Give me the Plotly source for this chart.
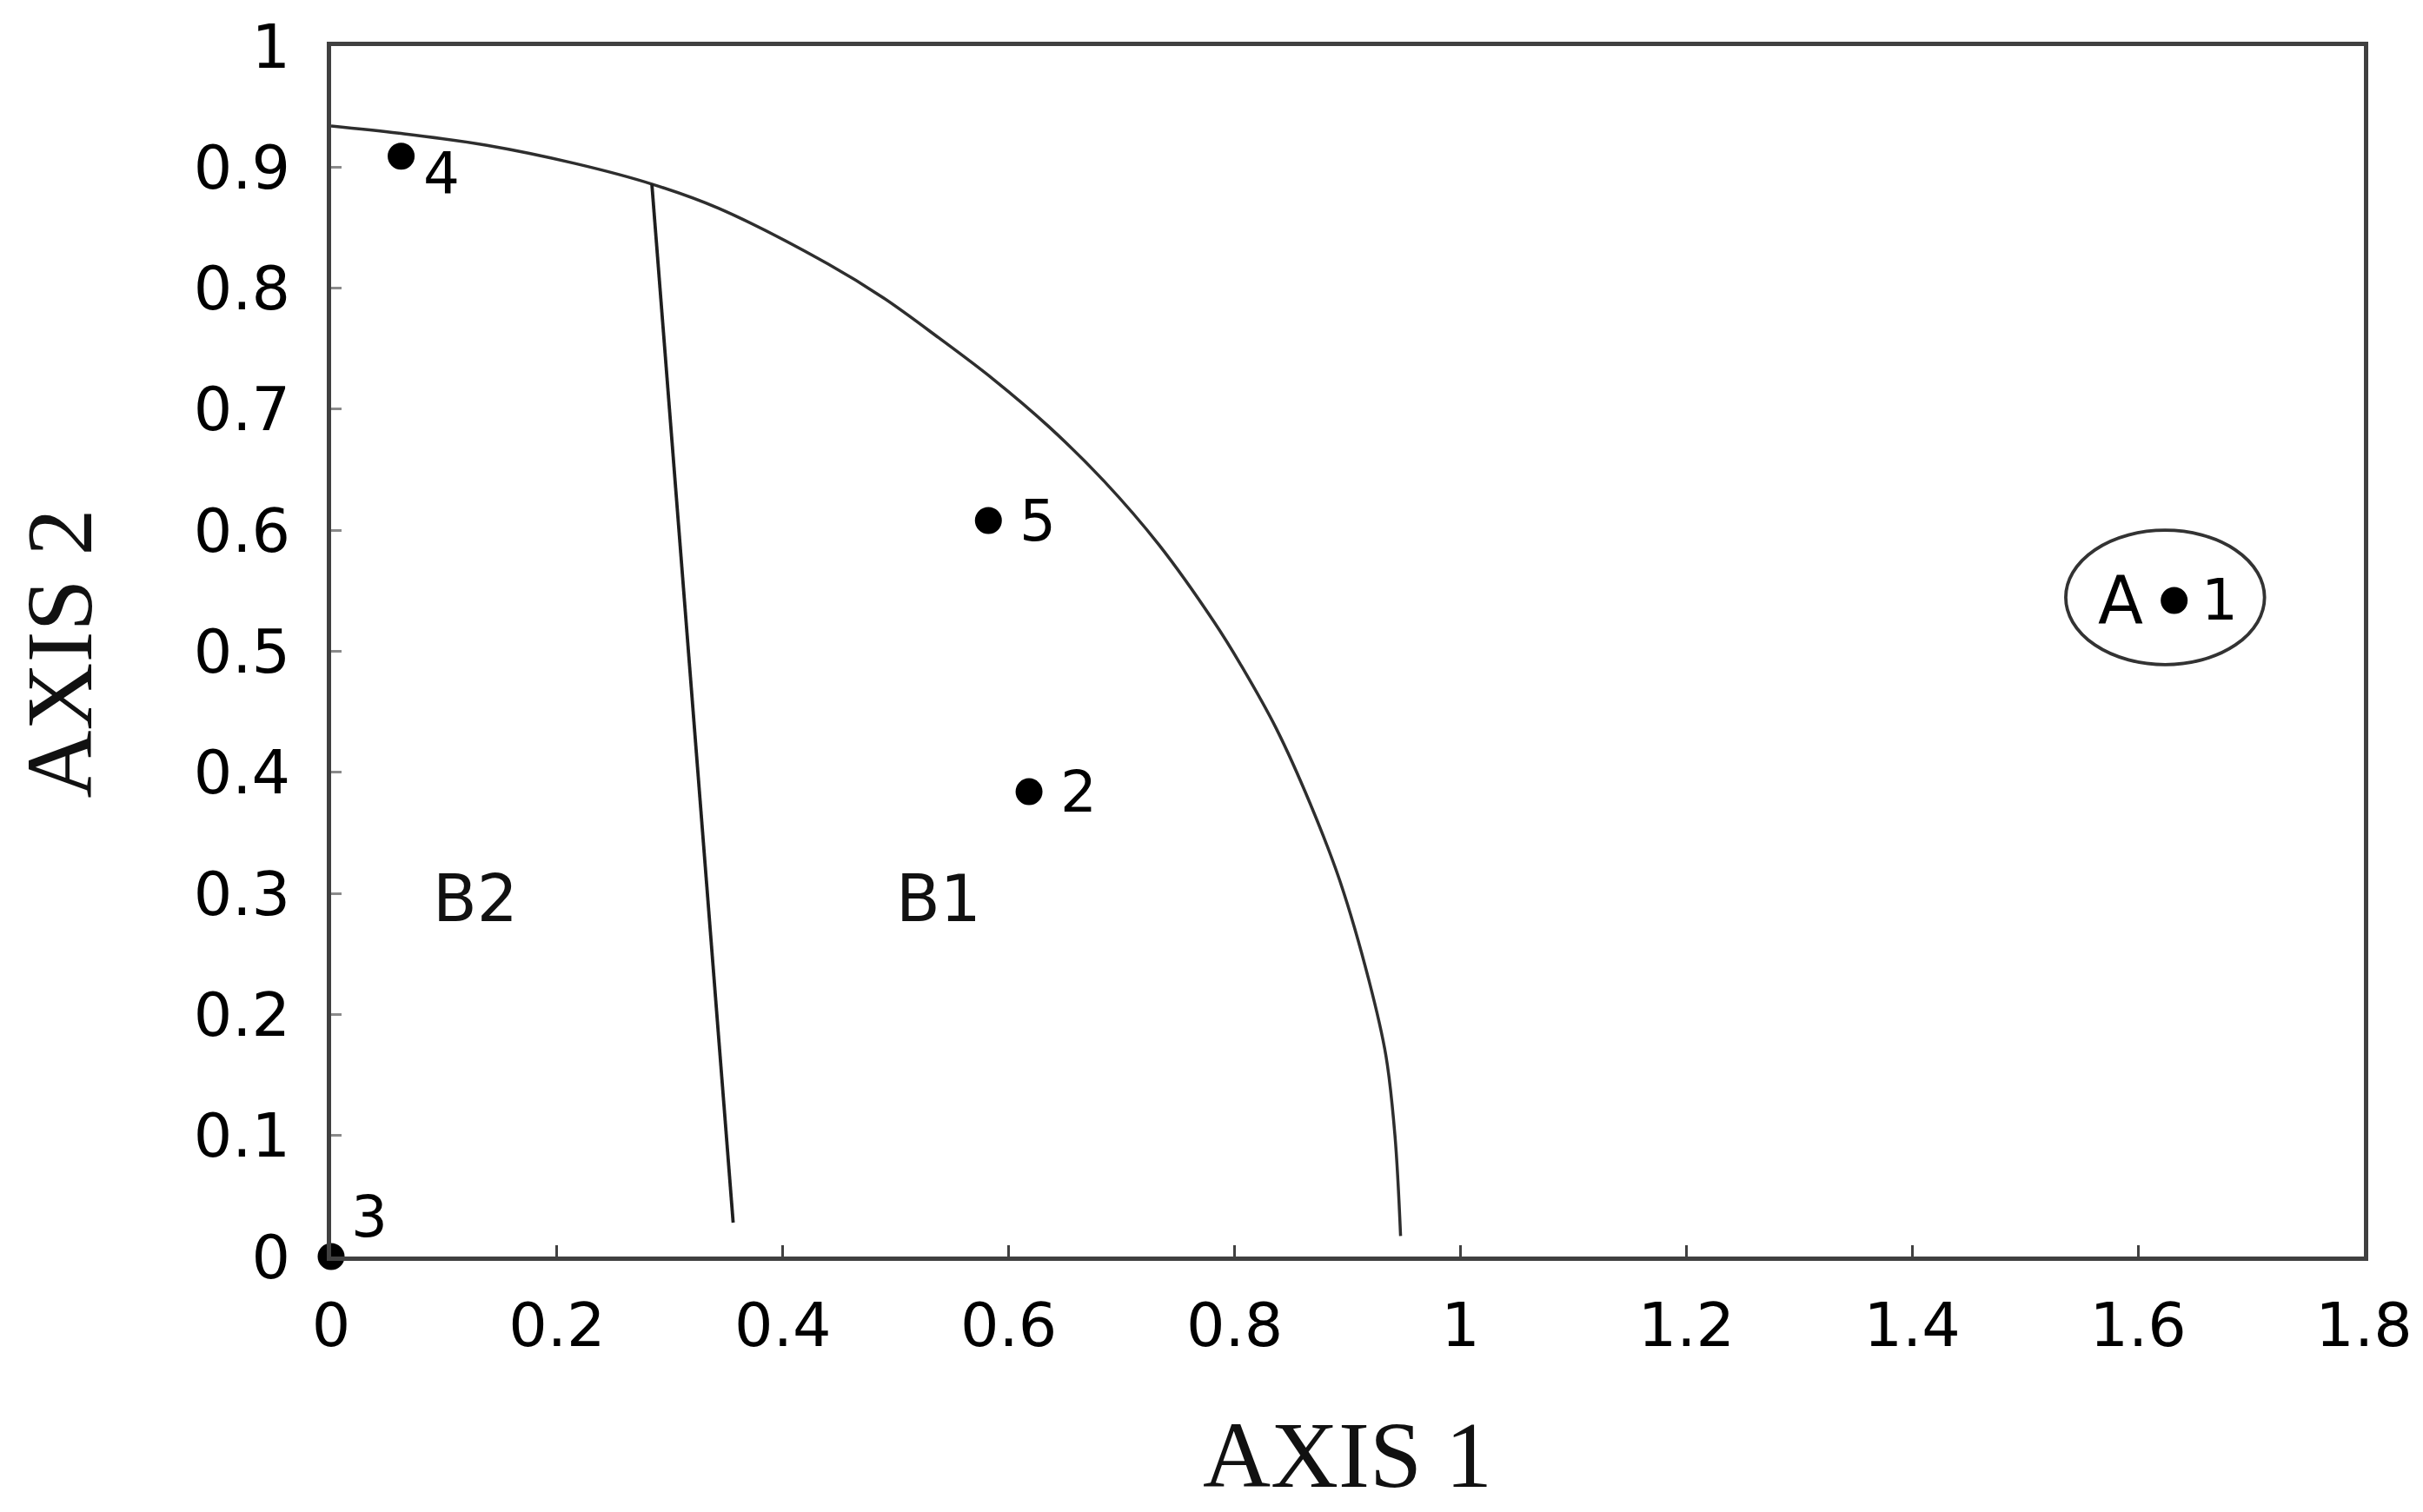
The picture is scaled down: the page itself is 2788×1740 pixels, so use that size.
import plotly.graph_objects as go

# Sample sites on the first two ordination axes
site_ids = ["1", "2", "3", "4", "5"]
axis1 = [1.632, 0.618, 0.0, 0.062, 0.582]
axis2 = [0.542, 0.384, 0.0, 0.909, 0.608]

# Outer boundary of group B
boundary_x = [0.0, 0.060, 0.138, 0.216, 0.284, 0.343, 0.440, 0.489, 0.538, 0.586, 0.635, 0.684,
              0.733, 0.782, 0.806, 0.837, 0.867, 0.893, 0.919, 0.934, 0.942, 0.947]
boundary_y = [0.934, 0.928, 0.918, 0.903, 0.886, 0.866, 0.820, 0.792, 0.759, 0.725, 0.686, 0.641,
              0.588, 0.524, 0.488, 0.436, 0.374, 0.311, 0.228, 0.166, 0.100, 0.017]

# Divider between subgroups B1 and B2
divider_x = [0.284, 0.356]
divider_y = [0.886, 0.028]

# Group A enclosure (x range, y range)
group_a_x = [1.536, 1.712]
group_a_y = [0.489, 0.600]

# Subgroup labels
group_names = ["B2", "B1"]
group_x = [0.128, 0.538]
group_y = [0.296, 0.296]

x_ticks = [0, 0.2, 0.4, 0.6, 0.8, 1, 1.2, 1.4, 1.6, 1.8]
x_tick_text = ["0", "0.2", "0.4", "0.6", "0.8", "1", "1.2", "1.4", "1.6", "1.8"]
y_ticks = [0, 0.1, 0.2, 0.3, 0.4, 0.5, 0.6, 0.7, 0.8, 0.9, 1]
y_tick_text = ["0", "0.1", "0.2", "0.3", "0.4", "0.5", "0.6", "0.7", "0.8", "0.9", "1"]

SANS = "DejaVu Sans, Liberation Sans, Arial, sans-serif"
SERIF = "Liberation Serif, Times New Roman, serif"
LINE = "#2e2e2e"
FRAME = "#404040"

fig = go.Figure()

fig.add_trace(go.Scatter(
    x=boundary_x, y=boundary_y, mode="lines",
    line=dict(color=LINE, width=3.5, shape="spline", smoothing=1.0),
    hoverinfo="skip", showlegend=False,
))
fig.add_trace(go.Scatter(
    x=divider_x, y=divider_y, mode="lines",
    line=dict(color="#1e1e1e", width=3.8),
    hoverinfo="skip", showlegend=False,
))
fig.add_trace(go.Scatter(
    x=axis1, y=axis2, mode="markers",
    marker=dict(color="#000000", size=31, line=dict(width=0)),
    cliponaxis=False, showlegend=False,
    text=site_ids, hovertemplate="Site %{text}<br>(%{x}, %{y})<extra></extra>",
))

# Group A ellipse
fig.add_shape(type="circle", xref="x", yref="y",
              x0=group_a_x[0], x1=group_a_x[1], y0=group_a_y[0], y1=group_a_y[1],
              line=dict(color="#333333", width=3.8))

annotations = []
# site number labels, offset from their dots
label_offsets = {"1": (52, 0), "2": (57, 0), "3": (44, 46), "4": (46, -20), "5": (57, 0)}
for sid, xv, yv in zip(site_ids, axis1, axis2):
    dx, dy = label_offsets[sid]
    annotations.append(dict(
        x=xv, y=yv, xref="x", yref="y", text=sid, showarrow=False,
        xshift=dx, yshift=dy, xanchor="center", yanchor="middle",
        font=dict(family=SANS, size=66, color="#000000"),
    ))

# group A letter sits left of site 1
annotations.append(dict(
    x=axis1[0], y=axis2[0], xref="x", yref="y", text="A", showarrow=False,
    xshift=-62, yshift=0, xanchor="center", yanchor="middle",
    font=dict(family=SANS, size=76, color="#000000"),
))

for name, gx, gy in zip(group_names, group_x, group_y):
    annotations.append(dict(
        x=gx, y=gy, xref="x", yref="y", text=name, showarrow=False,
        xanchor="center", yanchor="middle",
        font=dict(family=SANS, size=74, color="#111111"),
    ))

# axis titles
annotations.append(dict(
    x=0.5, y=-0.1643, xref="paper", yref="paper", text="AXIS 1", showarrow=False,
    xanchor="center", yanchor="middle",
    font=dict(family=SERIF, size=108, color="#111111"),
))
annotations.append(dict(
    x=-0.1337, y=0.498, xref="paper", yref="paper", text="AXIS 2", showarrow=False,
    xanchor="center", yanchor="middle", textangle=-90,
    font=dict(family=SERIF, size=108, color="#111111"),
))

fig.update_layout(
    width=2788, height=1740, autosize=False,
    margin=dict(l=381, r=58, t=46, b=294, pad=0),
    paper_bgcolor="#ffffff", plot_bgcolor="#ffffff",
    annotations=annotations,
    showlegend=False,
)

fig.update_xaxes(
    range=[0, 1.8], tickvals=x_ticks, ticktext=x_tick_text,
    showgrid=False, zeroline=False,
    showline=True, linecolor=FRAME, linewidth=5, mirror=True,
    ticks="inside", ticklen=13, tickwidth=3, tickcolor=FRAME,
    tickfont=dict(family=SANS, size=70, color="#000000"),
    ticklabelstandoff=14,
)
fig.update_yaxes(
    range=[0, 1], tickvals=y_ticks, ticktext=y_tick_text,
    showgrid=False, zeroline=False,
    showline=True, linecolor=FRAME, linewidth=5, mirror=True,
    ticks="inside", ticklen=12, tickwidth=3, tickcolor="#8a8a8a",
    tickfont=dict(family=SANS, size=70, color="#000000"),
    ticklabelstandoff=28,
)

fig.write_html("out.html")
